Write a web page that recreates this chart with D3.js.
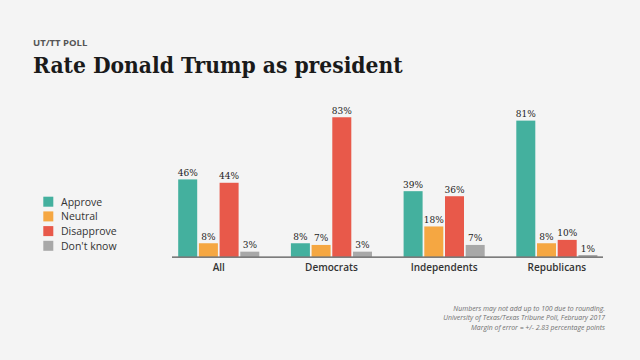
<!DOCTYPE html>
<html><head><meta charset="utf-8">
<script src="https://cdn.jsdelivr.net/npm/d3@7"></script>
<style>html,body{margin:0;padding:0;background:#f4f4f4;}svg{display:block;}</style>
</head><body>
<script>
const categories = ["All", "Democrats", "Independents", "Republicans"];
const series = ["Approve", "Neutral", "Disapprove", "Don't know"];
const approve = [46, 8, 39, 81];
const neutral = [8, 7, 18, 8];
const disapprove = [44, 83, 36, 10];
const dontKnow = [3, 3, 7, 1];
const colors = ["#44b09e", "#f5a742", "#e8594a", "#a8a8a8"];
const notes = [
  "Numbers may not add up to 100 due to rounding.",
  "University of Texas/Texas Tribune Poll, February 2017",
  "Margin of error = +/- 2.83 percentage points"
];
const values = [approve, neutral, disapprove, dontKnow];

const W = 640, H = 360;
const svg = d3.select("body").append("svg").attr("width", W).attr("height", H);
svg.append("rect").attr("width", W).attr("height", H).attr("fill", "#f4f4f4");

svg.append("text").attr("x", 33).attr("y", 46).text("UT/TT POLL")
  .attr("font-family", "Open Sans").attr("font-weight", 700).attr("font-size", 9.5).attr("fill", "#555");
const title = svg.append("text").attr("x", 33).attr("y", 73).text("Rate Donald Trump as president")
  .attr("font-family", "DejaVu Serif").attr("font-stretch", "condensed").attr("font-weight", 700)
  .attr("font-size", 24).attr("fill", "#1a1a1a");
const tw = title.node().getComputedTextLength();
title.attr("font-size", Math.min(26, 24 * 370 / tw));

const x0 = d3.scaleBand().domain(categories).range([162.4, 613.2]).padding(0);
const x1 = d3.scaleBand().domain(series).range([0, 81.1]).paddingInner(0.082).paddingOuter(0);
const y = d3.scaleLinear().domain([0, 100]).range([256.7, 88.7]);

const g = svg.append("g");
const groups = g.selectAll("g.grp").data(categories).join("g")
  .attr("transform", c => `translate(${x0(c) + x0.bandwidth() / 2 - 81.1 / 2},0)`);

groups.each(function (c, ci) {
  const gg = d3.select(this);
  series.forEach((s, si) => {
    const v = values[si][ci];
    gg.append("rect").attr("x", x1(s)).attr("width", x1.bandwidth())
      .attr("y", y(v)).attr("height", y(0) - y(v)).attr("fill", colors[si]);
    gg.append("text").attr("x", x1(s) + x1.bandwidth() / 2).attr("y", y(v) - 3.5)
      .attr("text-anchor", "middle").attr("font-family", "DejaVu Serif").attr("font-size", 9)
      .attr("fill", "#222").text(v + "%");
  });
});

// axis line
svg.append("line").attr("x1", 172).attr("x2", 603).attr("y1", 257.2).attr("y2", 257.2)
  .attr("stroke", "#555").attr("stroke-width", 1.2);
const xAxis = d3.axisBottom(x0).tickSize(0).tickPadding(0);
const ax = svg.append("g").attr("transform", "translate(0,264)").call(xAxis);
ax.select(".domain").remove();
ax.selectAll("text").attr("font-family", "Open Sans").attr("font-weight", 600)
  .attr("font-size", 10).attr("fill", "#333").attr("dy", "0.72em");

// legend
const leg = svg.append("g");
series.forEach((s, i) => {
  leg.append("rect").attr("x", 43.3).attr("y", 196.7 + i * 14.7).attr("width", 10).attr("height", 10).attr("fill", colors[i]);
  leg.append("text").attr("x", 61).attr("y", 205.5 + i * 14.7).text(s)
    .attr("font-family", "Open Sans").attr("font-size", 10.5).attr("fill", "#333");
});

// notes
const noteEls = notes.map((n, i) => svg.append("text").attr("x", 605).attr("y", 310.5 + i * 9.7)
  .attr("text-anchor", "end").text(n)
  .attr("font-family", "Open Sans").attr("font-style", "italic").attr("font-size", 8).attr("fill", "#707070"));
const nw = noteEls[1].node().getComputedTextLength();
const nfs = 8 * 162 / nw;
noteEls.forEach(e => e.attr("font-size", nfs));
</script>
</body></html>
